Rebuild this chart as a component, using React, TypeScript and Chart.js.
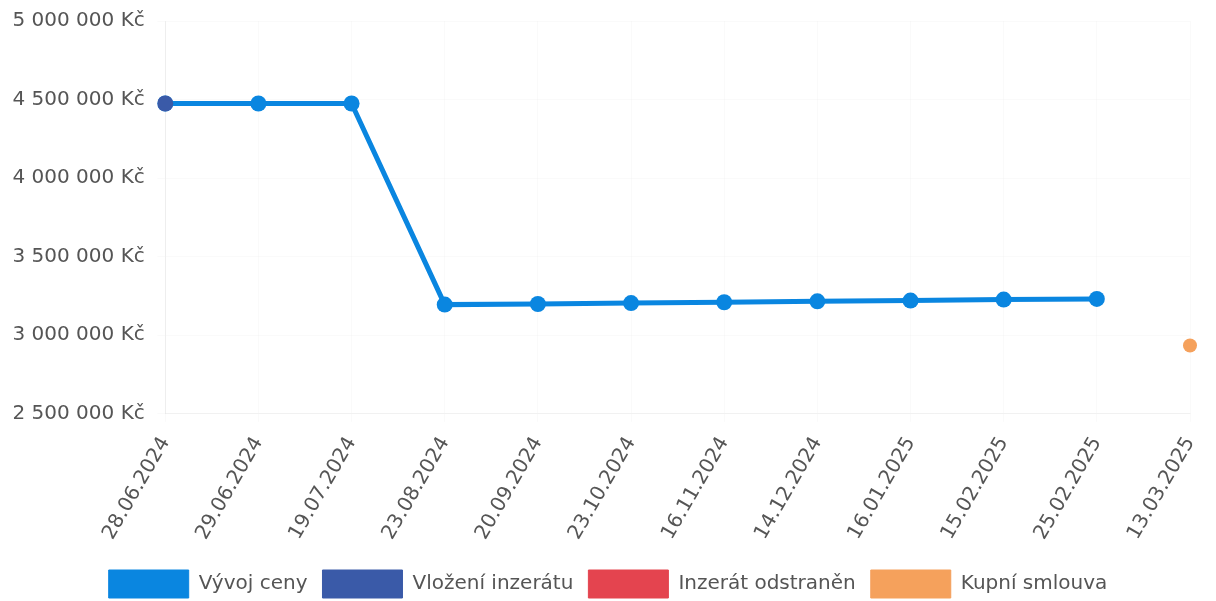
import React, { useEffect, useRef } from "react";
import { Chart, registerables } from "chart.js";

Chart.register(...registerables);

const labels = [
  "28.06.2024", "29.06.2024", "19.07.2024", "23.08.2024", "20.09.2024", "23.10.2024",
  "16.11.2024", "14.12.2024", "16.01.2025", "15.02.2025", "25.02.2025", "13.03.2025",
];

const vyvojCeny = [4475000, 4475000, 4475000, 3195000, 3199000, 3205000, 3210000, 3216000, 3221000, 3227000, 3231000, null];
const vlozeniInzeratu = [4475000, null, null, null, null, null, null, null, null, null, null, null];
const inzeratOdstranen = [null, null, null, null, null, null, null, null, null, null, null, null];
const kupniSmlouva = [null, null, null, null, null, null, null, null, null, null, null, 2935000];

const yMin = 2500000;
const yMax = 5000000;
const yStep = 500000;

const formatKc = (v: number) =>
  String(Math.round(v)).replace(/\B(?=(\d{3})+(?!\d))/g, " ") + " Kč";

export default function App() {
  const ref = useRef<HTMLCanvasElement | null>(null);

  useEffect(() => {
    document.body.style.margin = "0";
    const ctx = ref.current;
    if (!ctx) return;
    const font = { family: "'DejaVu Sans', sans-serif", size: 20 };
    const chart = new Chart(ctx, {
      type: "line",
      data: {
        labels,
        datasets: [
          {
            label: "Vývoj ceny",
            data: vyvojCeny,
            borderColor: "#0a86e0",
            backgroundColor: "#0a86e0",
            borderWidth: 5,
            pointRadius: 8,
            pointBorderWidth: 0,
            tension: 0,
            order: 2,
          },
          {
            label: "Vložení inzerátu",
            data: vlozeniInzeratu,
            borderColor: "#3a5aa8",
            backgroundColor: "#3a5aa8",
            borderWidth: 2,
            pointRadius: 8,
            pointBorderWidth: 0,
            showLine: false,
            order: 1,
          },
          {
            label: "Inzerát odstraněn",
            data: inzeratOdstranen,
            borderColor: "#e4444f",
            backgroundColor: "#e4444f",
            borderWidth: 2,
            pointRadius: 8,
            showLine: false,
            order: 1,
          },
          {
            label: "Kupní smlouva",
            data: kupniSmlouva,
            borderColor: "#f5a15c",
            backgroundColor: "#f5a15c",
            borderWidth: 2,
            pointRadius: 7,
            pointBorderWidth: 0,
            showLine: false,
            order: 1,
          },
        ],
      },
      options: {
        animation: false,
        responsive: false,
        layout: { padding: { left: 0, right: 0, top: 21, bottom: -7 } },
        scales: {
          x: {
            offset: false,
            grid: { color: "rgba(0,0,0,0.02)", drawTicks: true },
            border: { color: "rgba(0,0,0,0.04)" },
            afterFit: (scale: any) => {
              scale.paddingRight = 26;
              scale.paddingLeft = 0;
            },
            ticks: {
              color: "#555",
              font,
              minRotation: 60,
              maxRotation: 60,
              autoSkip: false,
              padding: 11,
            },
          },
          y: {
            min: yMin,
            max: yMax,
            grid: { color: "rgba(0,0,0,0.02)" },
            border: { color: "rgba(0,0,0,0.05)" },
            afterFit: (scale: any) => {
              scale.paddingTop = 0;
            },
            ticks: {
              stepSize: yStep,
              color: "#555",
              font,
              padding: 12.5,
              callback: (v: any) => formatKc(Number(v)),
            },
          },
        },
        plugins: {
          legend: {
            position: "bottom",
            labels: {
              color: "#555",
              font,
              boxWidth: 80,
              boxHeight: 28,
              padding: 15,
              sort: (a: any, b: any) => a.datasetIndex - b.datasetIndex,
              generateLabels: (c: any) => {
                const items = Chart.defaults.plugins.legend.labels.generateLabels(c);
                items.forEach((it: any) => {
                  it.lineWidth = 1;
                });
                return items;
              },
            },
          },
          tooltip: { enabled: false },
        },
      },
    });
    return () => chart.destroy();
  }, []);

  return <canvas ref={ref} width={1216} height={601} />;
}
